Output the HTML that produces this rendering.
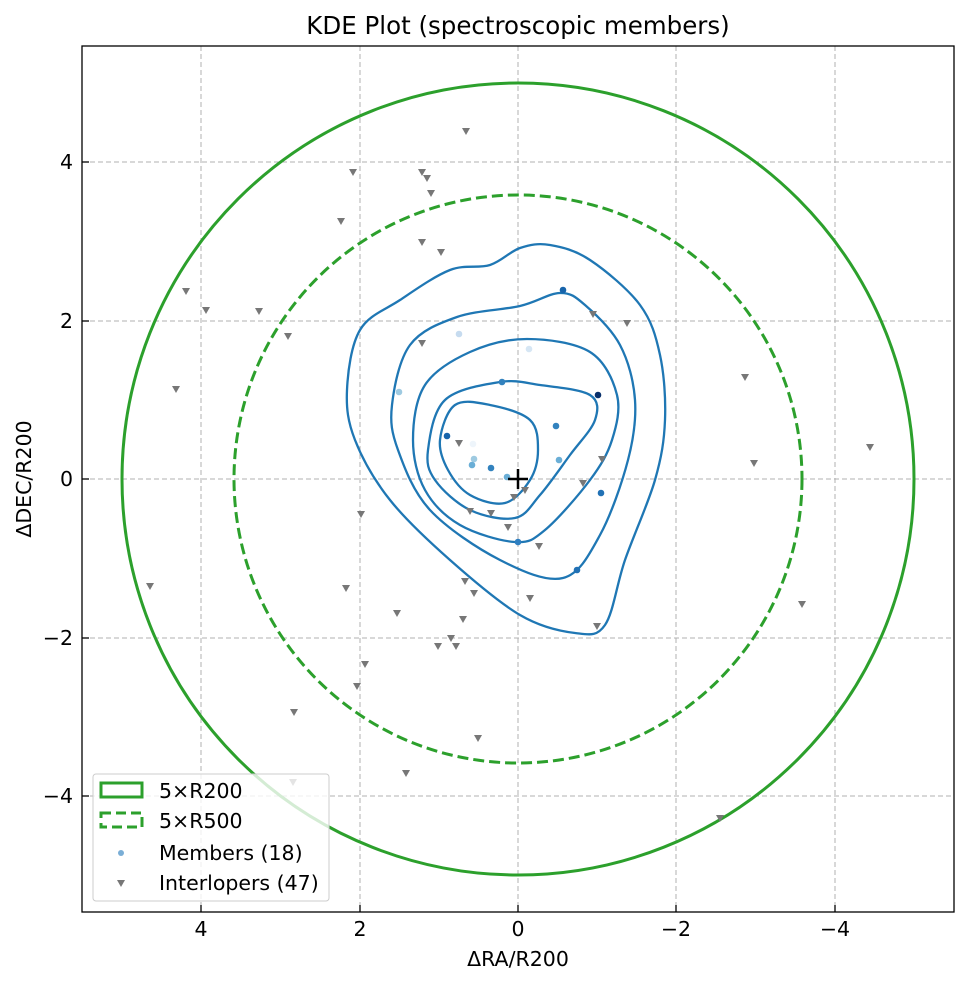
<!DOCTYPE html>
<html><head><meta charset="utf-8"><style>
html,body{margin:0;padding:0;background:#fff;}
svg{display:block;font-family:"DejaVu Sans","Liberation Sans",sans-serif;}
</style></head><body>
<svg id="s" width="969" height="984" viewBox="0 0 969 984" xmlns="http://www.w3.org/2000/svg">
<rect width="969" height="984" fill="#fff"/>
<text x="518" y="34" font-size="24.5" text-anchor="middle" fill="#000">KDE Plot (spectroscopic members)</text>
<g stroke="#b0b0b0" stroke-width="1" stroke-dasharray="5,3" fill="none">
<line x1="201" y1="46" x2="201" y2="911"/><line x1="360" y1="46" x2="360" y2="911"/>
<line x1="518" y1="46" x2="518" y2="911"/><line x1="676" y1="46" x2="676" y2="911"/>
<line x1="835" y1="46" x2="835" y2="911"/>
<line x1="82" y1="162" x2="954" y2="162"/><line x1="82" y1="321" x2="954" y2="321"/>
<line x1="82" y1="479" x2="954" y2="479"/><line x1="82" y1="638" x2="954" y2="638"/>
<line x1="82" y1="796" x2="954" y2="796"/>
</g>
<circle cx="518" cy="479" r="396" fill="none" stroke="#2ca02c" stroke-width="3"/>
<circle cx="518" cy="479" r="284" fill="none" stroke="#2ca02c" stroke-width="3" stroke-dasharray="11,5"/>
<g id="cont" fill="none" stroke="#1f77b4" stroke-width="2.3"></g>
<g id="inter" fill="#777"></g>
<g id="mem"></g>
<g stroke="#000" stroke-width="2.5"><line x1="508" y1="479" x2="528" y2="479"/><line x1="518" y1="469" x2="518" y2="489"/></g>
<rect x="82" y="46" width="872" height="866" fill="none" stroke="#000" stroke-width="1.3"/>
<g stroke="#000" stroke-width="1.3">
<line x1="201" y1="912" x2="201" y2="905"/><line x1="360" y1="912" x2="360" y2="905"/><line x1="518" y1="912" x2="518" y2="905"/><line x1="676" y1="912" x2="676" y2="905"/><line x1="835" y1="912" x2="835" y2="905"/>
<line x1="82" y1="162" x2="89" y2="162"/><line x1="82" y1="321" x2="89" y2="321"/><line x1="82" y1="479" x2="89" y2="479"/><line x1="82" y1="638" x2="89" y2="638"/><line x1="82" y1="796" x2="89" y2="796"/>
</g>
<g font-size="20.5" fill="#000" text-anchor="middle">
<text x="201" y="936">4</text><text x="360" y="936">2</text><text x="518" y="936">0</text><text x="676" y="936">−2</text><text x="835" y="936">−4</text>
</g>
<g font-size="20.5" fill="#000" text-anchor="end">
<text x="73" y="486">0</text><text x="73" y="169">4</text><text x="73" y="328">2</text><text x="73" y="645">−2</text><text x="73" y="803">−4</text>
</g>
<text x="518" y="966" font-size="20.5" text-anchor="middle">ΔRA/R200</text>
<text transform="translate(31,479) rotate(-90)" font-size="20.5" text-anchor="middle">ΔDEC/R200</text>
<rect x="93" y="774" width="236" height="127" rx="3" fill="#fff" fill-opacity="0.8" stroke="#ccc" stroke-width="1"/>
<rect x="101" y="783" width="41" height="14" fill="none" stroke="#2ca02c" stroke-width="3"/>
<rect x="101" y="813" width="41" height="14" fill="none" stroke="#2ca02c" stroke-width="3" stroke-dasharray="10,5"/>
<circle cx="121" cy="853" r="3" fill="#7aaed6"/>
<polygon points="117,880 125,880 121,887" fill="#777"/>
<g font-size="20.5" fill="#000">
<text x="159" y="798">5×R200</text><text x="159" y="828">5×R500</text><text x="159" y="860">Members (18)</text><text x="159" y="890">Interlopers (47)</text>
</g>
</svg>
<script>
function cr(p){var n=p.length,d="M"+p[0][0]+","+p[0][1];
for(var i=0;i<n;i++){var p0=p[(i-1+n)%n],p1=p[i],p2=p[(i+1)%n],p3=p[(i+2)%n];
d+=" C"+(p1[0]+(p2[0]-p0[0])/6)+","+(p1[1]+(p2[1]-p0[1])/6)+" "+(p2[0]-(p3[0]-p1[0])/6)+","+(p2[1]-(p3[1]-p1[1])/6)+" "+p2[0]+","+p2[1];}
return d+"Z";}
var C=[
[[347,390],[360,330],[400,300],[450,270],[490,265],[520,248],[550,245],[590,260],[640,305],[660,355],[665,420],[655,480],[625,560],[605,625],[575,633],[520,615],[450,560],[390,500],[355,440]],
[[392,405],[410,345],[457,317],[520,306],[560,293],[585,305],[620,345],[635,400],[628,460],[600,535],[563,578],[500,560],[430,510],[398,450]],
[[413,440],[425,385],[470,352],[527,339],[590,352],[617,395],[612,440],[590,480],[545,530],[515,542],[460,525],[425,490]],
[[428,450],[445,400],[500,382],[540,385],[590,395],[595,420],[570,455],[540,495],[515,518],[470,510],[435,480]],
[[440,440],[455,405],[490,405],[530,420],[538,450],[530,480],[505,503],[470,495],[448,470]]];
var ns="http://www.w3.org/2000/svg",g=document.getElementById("cont");
C.forEach(function(p){var e=document.createElementNS(ns,"path");e.setAttribute("d",cr(p));g.appendChild(e);});
var I=[[466,131],[353,172],[422,172],[427,178],[431,193],[341,221],[441,252],[186,291],[206,310],[259,311],[288,336],[422,343],[593,314],[627,323],[176,389],[745,377],[459,443],[602,459],[470,511],[491,513],[508,527],[525,490],[514,497],[583,483],[754,463],[870,447],[361,514],[539,546],[346,588],[465,581],[474,593],[397,613],[530,598],[463,619],[150,586],[597,626],[802,604],[451,638],[438,646],[456,646],[365,664],[357,686],[294,712],[478,738],[406,773],[293,782],[720,818],[422,242]];
var gi=document.getElementById("inter");
I.forEach(function(p){var e=document.createElementNS(ns,"polygon");var x=p[0],y=p[1];e.setAttribute("points",(x-4)+","+(y-3)+" "+(x+4)+","+(y-3)+" "+x+","+(y+4));gi.appendChild(e);});
var M=[[563,290,"#1764ab"],[459,334,"#c6dbef"],[529,349,"#d6e6f4"],[399,392,"#9ecae1"],[502,382,"#3282be"],[598,395,"#08306b"],[447,436,"#1764ab"],[556,426,"#3282be"],[474,459,"#9ecae1"],[472,465,"#6aaed6"],[491,468,"#3282be"],[559,460,"#6aaed6"],[507,477,"#6aaed6"],[601,493,"#2171b5"],[518,542,"#2f7fc1"],[577,570,"#2171b5"],[473,444,"#eef5fb"]];
var gm=document.getElementById("mem");
M.forEach(function(p){var e=document.createElementNS(ns,"circle");e.setAttribute("cx",p[0]);e.setAttribute("cy",p[1]);e.setAttribute("r",3.3);e.setAttribute("fill",p[2]);gm.appendChild(e);});
</script>
</body></html>
